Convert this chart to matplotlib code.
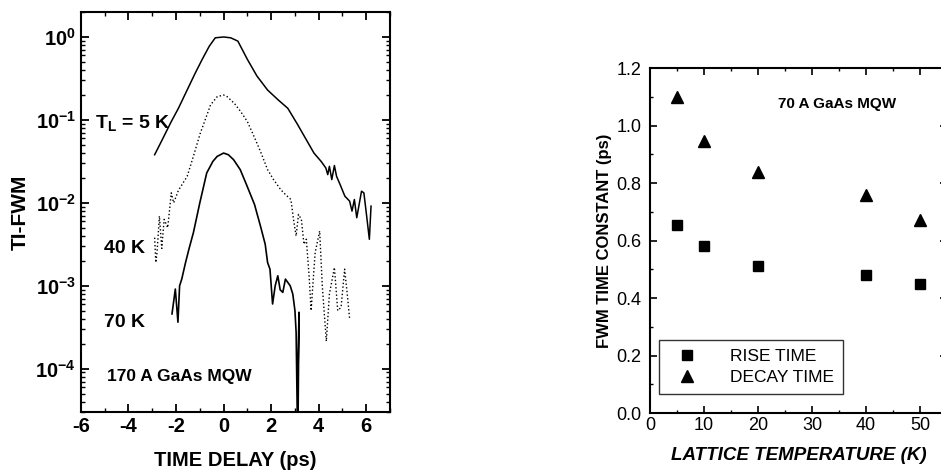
import matplotlib.pyplot as plt
import numpy as np

plt.rcParams['font.family'] = ['Liberation Sans', 'DejaVu Sans']
plt.rcParams['mathtext.fontset'] = 'custom'
plt.rcParams['mathtext.rm'] = 'Liberation Sans:bold'
plt.rcParams['mathtext.bf'] = 'Liberation Sans:bold'
plt.rcParams['axes.unicode_minus'] = False

# left panel: TI-FWM traces (delay in ps, log10 of signal)
t_5k = [-2.9, -2.6, -2.2, -1.9, -1.5, -1.2, -0.9, -0.6, -0.35, 0.0, 0.3, 0.6, 1.0, 1.4, 1.85,
        2.3, 2.7, 3.1, 3.5, 3.8, 4.1, 4.3, 4.38, 4.45, 4.55, 4.66, 4.75, 4.9, 5.1, 5.3, 5.4,
        5.5, 5.6, 5.7, 5.8, 5.9, 6.0, 6.13, 6.2]
log_5k = [-1.42, -1.25, -1.02, -0.86, -0.62, -0.44, -0.27, -0.11, -0.01, 0.0, -0.01, -0.05,
          -0.27, -0.47, -0.64, -0.76, -0.86, -1.05, -1.25, -1.4, -1.5, -1.58, -1.66, -1.56,
          -1.72, -1.55, -1.68, -1.78, -1.92, -1.98, -2.1, -1.96, -2.18, -2.02, -1.86, -1.88,
          -2.12, -2.44, -2.04]

t_40k = [-2.9, -2.85, -2.8, -2.7, -2.6, -2.5, -2.35, -2.2, -2.1, -1.9, -1.53, -1.25, -0.98,
         -0.75, -0.55, -0.27, 0.0, 0.15, 0.45, 0.72, 1.0, 1.28, 1.55, 1.85, 2.1, 2.4, 2.6,
         2.83, 2.95, 3.05, 3.15, 3.27, 3.38, 3.48, 3.6, 3.68, 3.85, 4.04, 4.15, 4.32, 4.45,
         4.66, 4.8, 4.94, 5.09, 5.2, 5.3]
log_40k = [-2.42, -2.72, -2.6, -2.16, -2.55, -2.2, -2.3, -1.88, -2.0, -1.85, -1.68, -1.42,
           -1.16, -0.98, -0.82, -0.72, -0.7, -0.72, -0.8, -0.9, -1.02, -1.2, -1.38, -1.6,
           -1.72, -1.84, -1.9, -1.96, -2.22, -2.4, -2.14, -2.2, -2.5, -2.44, -2.9, -3.3,
           -2.6, -2.34, -3.0, -3.67, -3.1, -2.78, -3.3, -3.26, -2.8, -3.1, -3.4]

t_70k = [-2.17, -2.03, -1.92, -1.85, -1.76, -1.6, -1.45, -1.27, -1.0, -0.71, -0.45, -0.27,
         0.0, 0.2, 0.42, 0.7, 0.99, 1.3, 1.55, 1.75, 1.85, 1.95, 2.06, 2.17, 2.28, 2.38,
         2.49, 2.6, 2.7, 2.8, 2.91, 3.0, 3.05, 3.1, 3.17, 3.12]
log_70k = [-3.34, -3.04, -3.44, -3.0, -2.92, -2.72, -2.55, -2.36, -2.0, -1.64, -1.5, -1.44,
           -1.4, -1.42, -1.48, -1.6, -1.8, -2.02, -2.28, -2.5, -2.72, -2.8, -3.22, -3.0,
           -2.88, -3.05, -3.08, -2.92, -2.96, -3.0, -3.1, -3.3, -3.56, -4.6, -3.32, -5.0]

# right panel: FWM time constants vs lattice temperature
temp_k = [5, 10, 20, 40, 50]
rise_ps = [0.655, 0.58, 0.51, 0.48, 0.45]
decay_ps = [1.10, 0.945, 0.84, 0.76, 0.67]

fig = plt.figure(figsize=(9.41, 4.75), dpi=100)

ax1 = fig.add_axes([0.086, 0.1326, 0.3285, 0.8421])
ax1.semilogy(t_5k, 10 ** np.array(log_5k), 'k-', lw=1.1)
ax1.semilogy(t_40k, 10 ** np.array(log_40k), 'k:', lw=1.0)
ax1.semilogy(t_70k, 10 ** np.array(log_70k), 'k-', lw=1.2)
ax1.set_xlim(-6, 7)
ax1.set_ylim(3e-5, 2)
ax1.set_xticks([-6, -4, -2, 0, 2, 4, 6])
ax1.set_xticks(np.arange(-6, 8, 1), minor=True)
ax1.set_yticks([1e0, 1e-1, 1e-2, 1e-3, 1e-4])
ax1.set_yticklabels([r'$10^{0}$', r'$10^{-1}$', r'$10^{-2}$', r'$10^{-3}$', r'$10^{-4}$'])
ax1.tick_params(which='both', direction='in', top=True, right=True, labelsize=14.5)
ax1.tick_params(which='major', length=6, width=1.3)
ax1.tick_params(which='minor', length=3, width=1.0)
for lab in ax1.get_xticklabels():
    lab.set_fontweight('bold')
ax1.set_xlabel('TIME DELAY (ps)', fontsize=14.5, fontweight='bold', labelpad=11)
ax1.set_ylabel('TI-FWM', fontsize=15, fontweight='bold', labelpad=4)
ax1.text(0.045, 0.72, r'T$_\mathregular{L}$ = 5 K', transform=ax1.transAxes,
         fontsize=14, fontweight='bold', va='center')
ax1.text(0.075, 0.41, '40 K', transform=ax1.transAxes, fontsize=14,
         fontweight='bold', va='center')
ax1.text(0.075, 0.223, '70 K', transform=ax1.transAxes, fontsize=14,
         fontweight='bold', va='center')
ax1.text(0.085, 0.09, '170 A GaAs MQW', transform=ax1.transAxes, fontsize=12.5,
         fontweight='bold', va='center')
for sp in ax1.spines.values():
    sp.set_linewidth(1.5)

ax2 = fig.add_axes([0.6908, 0.1305, 0.3156, 0.7263])
ax2.plot(temp_k, rise_ps, 's', color='k', ms=7.5, label='RISE TIME')
ax2.plot(temp_k, decay_ps, '^', color='k', ms=9, label='DECAY TIME')
ax2.set_xlim(0, 55)
ax2.set_ylim(0, 1.2)
ax2.set_xticks([0, 10, 20, 30, 40, 50])
ax2.set_xticks(np.arange(0, 56, 5), minor=True)
ax2.set_yticks([0.0, 0.2, 0.4, 0.6, 0.8, 1.0, 1.2])
ax2.set_yticklabels(['0.0', '0.2', '0.4', '0.6', '0.8', '1.0', '1.2'])
ax2.set_yticks(np.arange(0, 1.25, 0.1), minor=True)
ax2.tick_params(which='both', direction='in', top=True, right=True, labelsize=13)
ax2.tick_params(which='major', length=5, width=1.2)
ax2.tick_params(axis='x', which='major', pad=3)
ax2.tick_params(axis='y', which='major', pad=6)
ax2.tick_params(which='minor', length=2.5, width=1.0)
ax2.set_xlabel('LATTICE TEMPERATURE (K)', fontsize=13.5, fontweight='bold',
               fontstyle='italic', labelpad=9)
ax2.set_ylabel('FWM TIME CONSTANT (ps)', fontsize=12, fontweight='bold', labelpad=3)
ax2.text(0.43, 0.895, '70 A GaAs MQW', transform=ax2.transAxes, fontsize=11,
         fontweight='bold', va='center')
leg = ax2.legend(loc='lower left', bbox_to_anchor=(0.03, 0.055), fontsize=12.5,
                 frameon=True, fancybox=False, edgecolor='k', handletextpad=1.4,
                 borderpad=0.5, labelspacing=0.35, borderaxespad=0, handlelength=2.2)
leg.get_frame().set_linewidth(1.0)
for sp in ax2.spines.values():
    sp.set_linewidth(1.5)

fig.savefig('out.png', dpi=100)
